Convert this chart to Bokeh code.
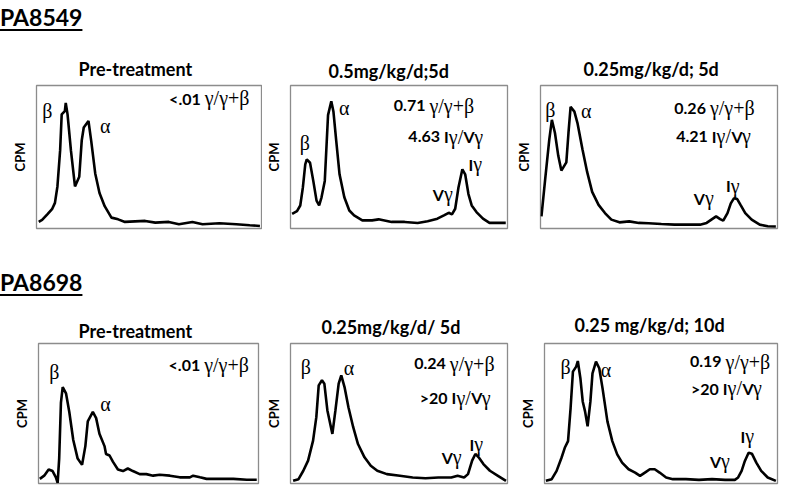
from bokeh.plotting import figure
from bokeh.models import Label, Div, Range1d
from bokeh.layouts import column, row
from bokeh.embed import file_html
from bokeh.resources import INLINE

# ---------------- data (elution fraction position 0-100, relative CPM 0-100) ----------------
patients = ["PA8549", "PA8698"]
titles = ["Pre-treatment", "0.5mg/kg/d;5d", "0.25mg/kg/d; 5d",
          "Pre-treatment", "0.25mg/kg/d/ 5d", "0.25 mg/kg/d; 10d"]
gamma_ratio = ["<.01", "0.71", "0.26", "<.01", "0.24", "0.19"]
igvg_ratio = [None, "4.63", "4.21", None, ">20", ">20"]

p1_x = [1, 2.5, 4.8, 7.0, 8.2, 9.3, 10.5, 11.2, 12.6, 13.0, 13.8, 15.3, 17.1, 19.0, 20.1, 21.0, 23.1,
        24.3, 26.1, 28.0, 30.3, 33.3, 36.3, 39.3, 48.3, 52.8, 58.8, 63.3, 69.3, 73.8, 81.3, 88.8, 94.8, 99.3]
p1_cpm = [4.6, 6.0, 9.9, 13.8, 17.9, 29.4, 54.6, 79.8, 82.1, 87.8, 79.8, 54.6, 29.4, 36.2, 61.5, 70.6, 75.2,
          61.5, 38.5, 24.8, 15.6, 7.6, 6.4, 4.6, 5.3, 4.1, 4.6, 3.0, 4.6, 3.0, 3.7, 3.0, 2.3, 1.8]

p2_x = [0.75, 3.0, 4.5, 5.7, 6.8, 7.5, 9.0, 10.5, 12.0, 13.2, 14.3, 15.8, 17.3, 18.8, 19.8, 21.1, 22.6,
        24.8, 27.1, 29.3, 33.1, 37.6, 40.6, 46.6, 52.6, 58.6, 63.2, 67.7, 70.7, 72.9, 74.4, 75.9, 77.4,
        79.2, 80.5, 82.0, 83.5, 85.7, 88.7, 91.7, 94.7, 99.2]
p2_cpm = [10.3, 12.2, 16.1, 28.7, 44.8, 48.3, 46.0, 33.3, 19.5, 16.1, 21.8, 33.3, 79.3, 89.0, 81.6, 60.9,
          37.9, 21.8, 12.6, 9.2, 5.7, 5.7, 6.4, 4.6, 4.6, 3.9, 5.1, 6.9, 9.2, 11.0, 9.9, 13.8, 28.7, 41.4,
          37.9, 24.1, 16.1, 11.5, 6.9, 3.9, 3.9, 3.9]

p3_x = [0.4, 2.0, 3.7, 4.8, 6.1, 7.5, 8.8, 10.9, 11.8, 12.7, 14.3, 15.6, 17.7, 19.7, 21.8, 24.5, 27.2,
        29.9, 33.3, 37.4, 41.5, 45.6, 51.0, 56.5, 61.9, 67.3, 70.1, 72.1, 74.1, 75.8, 77.1, 78.9, 80.3,
        81.6, 83.0, 84.4, 86.4, 89.1, 92.5, 95.9, 99.3]
p3_cpm = [8.5, 34.8, 62.2, 76.0, 66.8, 50.8, 40.5, 46.2, 66.8, 85.1, 81.7, 73.7, 55.4, 39.4, 25.6, 16.5,
          10.8, 6.2, 4.3, 5.0, 3.9, 3.7, 3.2, 2.7, 2.7, 2.7, 3.9, 6.2, 8.5, 6.6, 5.5, 10.8, 17.6, 21.1,
          20.6, 16.5, 10.8, 6.2, 2.7, 1.6, 1.4]

p4_x = [0.6, 2.6, 4.6, 6.4, 7.9, 8.7, 9.4, 10.2, 11.0, 12.5, 14.0, 15.8, 17.8, 19.8, 21.3, 22.4, 24.7,
        26.2, 27.7, 30.0, 30.7, 32.3, 33.8, 36.1, 38.4, 40.6, 42.9, 46.0, 49.0, 52.1, 55.1, 59.7, 64.2,
        68.8, 70.3, 73.4, 76.4, 82.5, 88.6, 94.7, 99.2]
p4_cpm = [3.3, 5.6, 10.0, 8.9, 4.4, 0.4, 17.8, 57.8, 68.9, 64.4, 51.1, 31.1, 17.8, 13.3, 26.7, 44.4,
          51.1, 46.7, 35.6, 26.7, 21.1, 20.0, 15.6, 10.0, 8.9, 10.7, 8.9, 6.7, 6.7, 5.6, 6.2, 5.6, 4.4,
          4.4, 5.6, 4.4, 3.3, 3.3, 3.3, 2.7, 2.7]

p5_x = [1.2, 3.7, 5.9, 8.1, 10.4, 11.9, 13.0, 14.5, 15.6, 17.0, 19.3, 20.7, 22.2, 23.4, 24.9, 26.7, 28.9,
        31.1, 34.1, 37.0, 40.0, 44.4, 50.4, 56.3, 62.2, 68.1, 74.1, 77.0, 80.0, 81.8, 83.7, 85.2, 86.7,
        88.9, 91.9, 95.6, 99.3]
p5_cpm = [1.9, 3.1, 9.1, 16.3, 30.6, 47.4, 70.1, 73.7, 71.3, 52.2, 35.4, 52.2, 71.3, 77.3, 68.9, 54.5,
          40.2, 28.2, 18.7, 12.7, 9.1, 6.7, 5.5, 4.3, 3.8, 4.3, 4.3, 5.5, 4.3, 6.7, 16.3, 21.1, 18.7,
          13.9, 9.1, 5.5, 1.9]

p6_x = [0.6, 3.1, 5.2, 7.3, 8.7, 10.1, 11.2, 12.2, 13.6, 14.3, 15.4, 16.4, 17.4, 18.5, 19.7, 20.6, 22.1,
        23.5, 24.9, 27.0, 29.1, 31.2, 33.3, 36.1, 38.9, 41.0, 43.1, 45.2, 47.3, 49.4, 52.2, 55.1, 60.7,
        66.3, 71.9, 77.5, 81.7, 83.1, 84.6, 86.0, 87.6, 89.0, 90.9, 93.0, 95.8, 99.3]
p6_cpm = [1.9, 3.1, 9.0, 18.4, 25.5, 30.3, 53.9, 79.9, 83.5, 87.5, 75.2, 58.6, 51.5, 40.9, 58.6, 78.7,
          87.0, 82.3, 68.1, 44.4, 30.3, 20.8, 14.9, 10.2, 7.8, 5.4, 7.8, 10.2, 10.2, 7.8, 4.3, 3.1, 3.1,
          2.6, 3.1, 2.6, 2.6, 4.3, 9.0, 16.1, 22.0, 21.3, 14.9, 9.0, 4.3, 1.9]

traces = [(p1_x, p1_cpm), (p2_x, p2_cpm), (p3_x, p3_cpm),
          (p4_x, p4_cpm), (p5_x, p5_cpm), (p6_x, p6_cpm)]

# ---------------- layout / style ----------------
SANS = "Lato"
SERIF = "Liberation Serif"
SANS_SIZE = 16
SERIF_SIZE = 20
SERIF_W = {"γ": 0.46, "/": 0.28, "+": 0.56, "β": 0.5}
SANS_W = {"I": 0.30, "V": 0.66}

# width, height, border left/right/top/bottom, title left offset, title standoff
geom = [
    (262, 194, 36, 1, 44, 5, 42, 11),
    (250, 194, 23, 5, 43, 6, 38, 8),
    (273, 194, 20, 8, 45, 3, 43, 11),
    (262, 195, 38, 4, 37, 10, 40, 4),
    (254, 195, 20, 9, 43, 12, 31, 11),
    (269, 195, 23, 8, 42, 12, 30, 16),
]
# annotation anchors (panel coordinates)
beta_pos = [(4.8, 82), (6.6, 60), (4.1, 83), (7.2, 79.6), (7.1, 83), (9.0, 83.5)]
alpha_pos = [(30.6, 72), (24.8, 84), (19.3, 82), (30.4, 56.7), (27.0, 82.5), (26.4, 81)]
gamma_txt_pos = [(73, 91), (62.2, 86), (69.8, 84), (73.5, 85), (71.6, 85.7), (76, 87)]
igvg_txt_pos = [None, (68.9, 64), (70.6, 64.4), None, (72.4, 61.4), (74.8, 68)]
vg_pos = [None, (70.7, 24), (69.4, 21), None, (74.8, 18.7), (75.8, 16)]
ig_pos = [None, (84.2, 45), (80.3, 30), None, (84.7, 28), (86.2, 33.8)]


def lbl(p, x, y, text, font, size, bold=False, align="left", xo=0, yo=0):
    p.add_layout(Label(x=x, y=y, x_offset=xo, y_offset=yo, text=text, text_font=font,
                       text_font_size=f"{size}px", text_font_style="bold" if bold else "normal",
                       text_align=align, text_baseline="middle", text_color="black"))


def seg_width(txt, kind):
    if kind == "serif":
        return sum(SERIF_W.get(c, 0.5) for c in txt) * SERIF_SIZE
    return sum(SANS_W.get(c, 0.58) for c in txt) * SANS_SIZE


def ratio_line(p, pos, number, segs):
    x, y = pos
    lbl(p, x, y, number, SANS, SANS_SIZE, bold=True, align="right")
    off = 4
    for txt, kind in segs:
        if kind == "serif":
            lbl(p, x, y, txt, SERIF, SERIF_SIZE, align="left", xo=off)
        else:
            lbl(p, x, y, txt, SANS, SANS_SIZE, bold=True, align="left", xo=off)
        off += seg_width(txt, kind)


def gamma_peak_label(p, pos, letter):
    x, y = pos
    lbl(p, x, y, letter, SANS, SANS_SIZE, bold=True, align="right")
    lbl(p, x, y, "γ", SERIF, SERIF_SIZE, align="left")


figs = []
for i in range(6):
    w, h, bl, br, bt, bb, toff, tstand = geom[i]
    p = figure(width=w, height=h, min_border_left=bl, min_border_right=br,
               min_border_top=bt, min_border_bottom=bb,
               x_range=Range1d(0, 100), y_range=Range1d(0, 100),
               output_backend="svg", toolbar_location=None, title=titles[i])
    p.title.text_font = SANS
    p.title.text_font_size = "18px"
    p.title.text_font_style = "bold"
    p.title.text_color = "black"
    p.title.align = "left"
    p.title.offset = toff
    p.title.standoff = tstand
    p.xaxis.visible = False
    p.yaxis.ticker = []
    p.yaxis.axis_line_color = None
    p.yaxis.major_tick_line_color = None
    p.yaxis.minor_tick_line_color = None
    p.yaxis.major_label_text_font_size = "0px"
    p.yaxis.major_tick_out = 0
    p.yaxis.major_label_standoff = 0
    p.yaxis.axis_label = "CPM"
    p.yaxis.axis_label_text_font = SANS
    p.yaxis.axis_label_text_font_size = "13px"
    p.yaxis.axis_label_text_font_style = "bold"
    p.yaxis.axis_label_text_color = "black"
    p.yaxis.axis_label_standoff = 9
    p.grid.visible = False
    p.outline_line_color = "#8c8c8c"
    p.outline_line_width = 1.3
    p.background_fill_color = "white"
    p.border_fill_color = "white"

    xs, ys = traces[i]
    p.line(xs, ys, line_color="black", line_width=2.6)

    lbl(p, *beta_pos[i], "β", SERIF, SERIF_SIZE, align="center")
    lbl(p, *alpha_pos[i], "α", SERIF, SERIF_SIZE, align="center")
    ratio_line(p, gamma_txt_pos[i], gamma_ratio[i], [("γ/γ+β", "serif")])
    if igvg_ratio[i] is not None:
        ratio_line(p, igvg_txt_pos[i], igvg_ratio[i],
                   [("I", "sans"), ("γ/", "serif"), ("V", "sans"), ("γ", "serif")])
        gamma_peak_label(p, vg_pos[i], "V")
        gamma_peak_label(p, ig_pos[i], "I")
    figs.append(p)

head_style = ("font-family:Lato;font-weight:bold;font-size:23px;color:#000;line-height:1;"
              "text-decoration:underline;text-decoration-thickness:2px;text-underline-offset:3px;")
d1 = Div(text=f'<div style="{head_style}padding-top:6px;">{patients[0]}</div>',
         width=785, height=40, margin=(0, 0, 0, 0))
d2 = Div(text=f'<div style="{head_style}padding-top:37px;">{patients[1]}</div>',
         width=785, height=66, margin=(0, 0, 0, 0))

layout = column(d1, row(figs[0], figs[1], figs[2], spacing=0), d2,
                row(figs[3], figs[4], figs[5], spacing=0), spacing=0)

open("out.html", "w").write(file_html(layout, INLINE))
